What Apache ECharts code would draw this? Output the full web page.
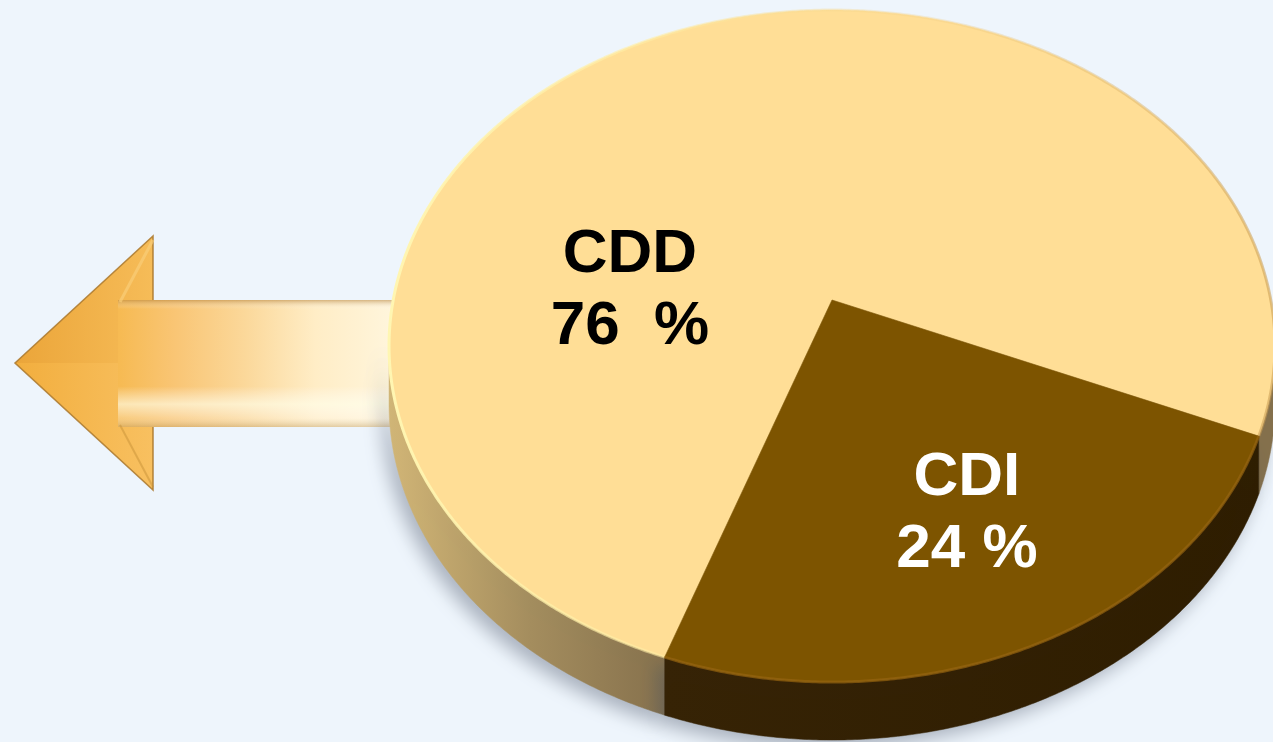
<!DOCTYPE html>
<html>
<head>
<meta charset="utf-8">
<script src="https://cdn.jsdelivr.net/npm/echarts@6/dist/echarts.min.js"></script>
<style>
html,body{margin:0;padding:0;background:#EEF5FC;overflow:hidden;}
#chart{width:1273px;height:742px;}
</style>
</head>
<body>
<div id="chart"></div>
<script>
// ---- data ----
const categories = ['CDD', 'CDI'];
const shares = [76, 24];
const percentGap = ['  ', ' '];

// ---- look ----
const topColors = ['#FFDE96', '#7D5400'];
const textColors = ['#000000', '#FFFFFF'];

// perspective disc geometry (screen px)
const PIE = { cx: 832, apexY: 300, A: 438.8, B: 329.7, k: 0.137, depth: 58, startAngle: 250.6 };
// label anchors in disc space: [angle deg, radius fraction]
const labelAnchor = [[176.6, 0.463], [-64.6, 0.6585]];

const D2R = Math.PI / 180;
function proj(t, r, dy) {
  const u = r * Math.cos(t), v = r * Math.sin(t);
  const w = 1 + PIE.k * v;
  return [PIE.cx + PIE.A * u / w, PIE.apexY - PIE.B * v / w + (dy || 0)];
}
function arc(t0, t1, dy) {
  const pts = [];
  const n = Math.max(2, Math.ceil(Math.abs(t1 - t0) / (0.4 * D2R)));
  for (let i = 0; i <= n; i++) pts.push(proj(t0 + (t1 - t0) * i / n, 1, dy));
  return pts;
}
function sliceRange(idx) {
  const total = shares.reduce((a, b) => a + b, 0);
  let before = 0;
  for (let i = 0; i < idx; i++) before += shares[i];
  const s = PIE.startAngle * D2R - before / total * 2 * Math.PI;
  const e = s - shares[idx] / total * 2 * Math.PI;
  return [e, s];
}

const wallFills = [
  new echarts.graphic.LinearGradient(390, 0, 670, 0, [
    { offset: 0, color: '#D2B676' }, { offset: 0.5, color: '#A48D5E' }, { offset: 1, color: '#85704C' }
  ], true),
  new echarts.graphic.LinearGradient(660, 0, 1270, 0, [
    { offset: 0, color: '#362305' }, { offset: 1, color: '#2E1D00' }
  ], true)
];
const rimStrokes = [
  new echarts.graphic.LinearGradient(388, 0, 1275, 0, [
    { offset: 0, color: 'rgba(255,246,178,1)' }, { offset: 0.3, color: 'rgba(255,238,165,0.55)' },
    { offset: 0.6, color: 'rgba(240,205,130,0.25)' }, { offset: 1, color: 'rgba(200,155,80,0.55)' }
  ], true),
  'rgba(150,100,15,0.7)'
];

function renderWall(params, api) {
  const i = params.dataIndex;
  const [e, s] = sliceRange(i);
  const a = Math.asin(PIE.k);
  const children = [];
  for (const off of [-2 * Math.PI, 0, 2 * Math.PI]) {
    const lo = Math.max(e, Math.PI + a + off);
    const hi = Math.min(s, 2 * Math.PI - a + off);
    if (hi > lo) {
      const pts = arc(lo, hi, 0).concat(arc(hi, lo, PIE.depth));
      children.push({
        type: 'polygon', shape: { points: pts },
        style: { fill: wallFills[i], stroke: wallFills[i], lineWidth: 0.5,
          shadowBlur: 18, shadowColor: 'rgba(70,80,100,0.4)', shadowOffsetX: -7, shadowOffsetY: 8 }
      });
    }
  }
  return { type: 'group', children };
}

function renderTop(params, api) {
  const i = params.dataIndex;
  const [e, s] = sliceRange(i);
  const apex = proj(0, 0);
  const rim = arc(s, e, 0);
  const la = labelAnchor[i];
  const lp = proj(la[0] * D2R, la[1]);
  return {
    type: 'group',
    children: [
      { type: 'polygon', shape: { points: [apex].concat(rim) },
        style: { fill: topColors[i], stroke: topColors[i], lineWidth: 0.6 } },
      { type: 'polyline', shape: { points: rim },
        style: { fill: null, stroke: rimStrokes[i], lineWidth: 3 } },
      { type: 'text', x: lp[0], y: lp[1],
        style: { text: categories[i] + '\n' + api.value(0) + percentGap[i] + '%',
          fill: textColors[i], fontSize: 62, fontWeight: 'bold',
          fontFamily: '"Liberation Sans", Arial, sans-serif',
          align: 'center', verticalAlign: 'middle', lineHeight: 72 } }
    ]
  };
}

const seriesData = categories.map((c, i) => ({ name: c, value: shares[i] }));

const arrowHead = [[15, 363], [153, 236], [153, 490]];

const chart = echarts.init(document.getElementById('chart'), null, { renderer: 'canvas' });
chart.setOption({
  backgroundColor: '#EEF5FC',
  animation: false,
  graphic: { elements: [
    // head upper facet
    { type: 'polygon', z: 1, shape: { points: [[15, 363], [153, 236], [153, 363]] },
      style: { fill: { type: 'linear', x: 15, y: 300, x2: 153, y2: 300, global: true,
        colorStops: [{ offset: 0, color: '#EBA539' }, { offset: 1, color: '#F6BC58' }] } } },
    // head lower facet
    { type: 'polygon', z: 1, shape: { points: [[15, 363], [153, 363], [153, 490]] },
      style: { fill: { type: 'linear', x: 15, y: 420, x2: 153, y2: 420, global: true,
        colorStops: [{ offset: 0, color: '#F2AE3E' }, { offset: 1, color: '#F8C060' }] } } },
    // head outline
    { type: 'polygon', z: 2, shape: { points: arrowHead },
      style: { fill: null, stroke: 'rgba(170,120,45,0.85)', lineWidth: 1.6 } },
    // shaft
    { type: 'rect', z: 3, shape: { x: 118, y: 300, width: 290, height: 127 },
      style: { fill: { type: 'linear', x: 118, y: 0, x2: 400, y2: 0, global: true,
        colorStops: [{ offset: 0, color: '#F6BA52' }, { offset: 0.2, color: '#F9C574' },
          { offset: 0.45, color: '#FBD89A' }, { offset: 0.7, color: '#FFEDC6' }, { offset: 1, color: '#FFF6DE' }] } } },
    // shaft vertical shading
    { type: 'rect', z: 4, shape: { x: 118, y: 300, width: 290, height: 127 },
      style: { fill: { type: 'linear', x: 0, y: 300, x2: 0, y2: 427, global: true,
        colorStops: [{ offset: 0, color: 'rgba(180,130,60,0.55)' }, { offset: 0.07, color: 'rgba(255,255,255,0)' },
          { offset: 0.68, color: 'rgba(255,255,255,0)' }, { offset: 0.82, color: 'rgba(255,255,235,0.65)' },
          { offset: 0.93, color: 'rgba(255,255,255,0.25)' }, { offset: 1, color: 'rgba(190,160,110,0.45)' }] } } },
    // head bevel lines into shaft
    { type: 'polyline', z: 5, shape: { points: [[153, 240], [120, 302]] },
      style: { stroke: 'rgba(250,205,120,0.7)', lineWidth: 3 } },
    { type: 'polyline', z: 5, shape: { points: [[120, 425], [153, 487]] },
      style: { stroke: 'rgba(200,145,55,0.5)', lineWidth: 2 } }
  ] },
  series: [
    { type: 'custom', name: 'wall', coordinateSystem: 'none', z: 10, silent: true,
      renderItem: renderWall, data: seriesData },
    { type: 'custom', name: 'top', coordinateSystem: 'none', z: 11, silent: true,
      renderItem: renderTop, data: seriesData }
  ]
});
</script>
</body>
</html>
